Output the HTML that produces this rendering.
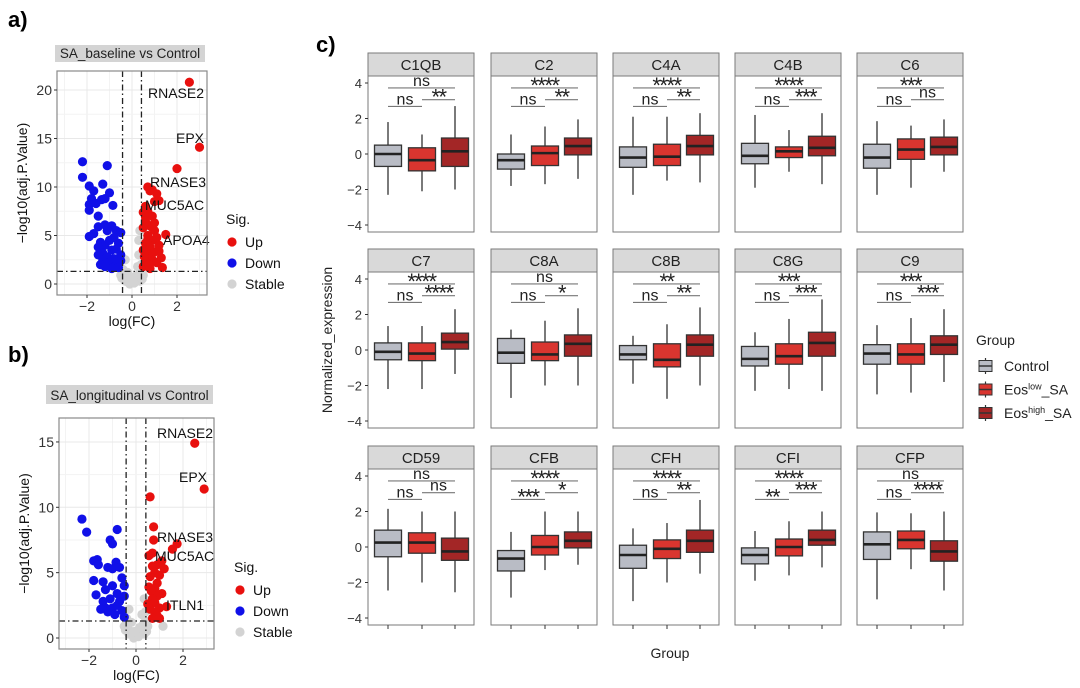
<!DOCTYPE html>
<html><head><meta charset="utf-8">
<style>
html,body{margin:0;padding:0;background:#fff;}
svg{display:block;font-family:"Liberation Sans",Arial,sans-serif;}
</style></head>
<body>
<svg id="fig" width="1080" height="688" viewBox="0 0 1080 688" xmlns="http://www.w3.org/2000/svg"></svg>
<script>
// ---------- Volcano data ----------
const volcA_up = [[2.55,20.8],[3.0,14.1],[2.0,11.9],[0.8,9.6],[0.7,10.0],[0.9,9.7],[1.1,9.3],[1.0,8.5],[1.2,8.6],[0.6,8.0],[0.5,7.4],[0.7,7.5],[0.9,7.0],[1.5,5.1],[0.6,6.5],[0.8,6.0],[1.0,5.5],[0.5,5.8],[0.7,5.0],[1.1,4.8],[0.9,4.5],[0.6,4.2],[1.2,4.0],[0.8,3.8],[0.5,3.5],[1.0,3.3],[1.3,2.7],[0.7,3.0],[0.9,2.5],[0.6,2.2],[1.1,2.2],[1.35,1.7],[0.5,1.8],[0.8,1.6],[0.7,4.6],[1.0,6.3],[0.9,5.8],[0.6,6.9],[1.2,3.4],[0.55,2.8],[0.75,2.0]];
const volcA_down = [[-2.2,12.6],[-1.1,12.2],[-2.2,11.0],[-1.3,10.3],[-1.9,10.1],[-1.7,9.6],[-1.0,9.4],[-1.2,8.8],[-1.8,8.8],[-1.9,8.2],[-1.6,8.3],[-1.35,8.7],[-0.85,8.1],[-1.9,7.6],[-1.5,7.0],[-1.2,6.1],[-1.5,5.9],[-0.9,6.0],[-1.7,5.2],[-1.9,4.9],[-1.1,5.5],[-0.7,5.5],[-0.5,5.3],[-1.4,4.3],[-1.0,4.5],[-0.8,4.8],[-1.2,4.0],[-0.6,4.2],[-1.5,3.8],[-0.9,3.5],[-1.3,3.2],[-0.7,3.6],[-1.5,3.0],[-1.1,2.8],[-0.8,2.6],[-0.5,3.0],[-1.3,2.4],[-1.0,2.2],[-0.7,2.0],[-1.2,1.8],[-0.6,1.7],[-0.9,1.6],[-0.5,2.4],[-1.4,2.0]];
const volcA_stable = [[0,0.2],[-0.2,0.5],[0.2,0.5],[-0.35,1.0],[0.3,1.0],[-0.1,0],[0.1,0.1],[-0.3,0.3],[0.35,0.3],[0.4,1.3],[-0.4,1.5],[0.25,1.8],[-0.2,1.2],[0.15,0.8],[0.3,3.0],[0.35,5.5],[0.3,4.5],[-0.3,2.5],[0.4,2.0],[-0.05,0.5],[0.05,0.4],[-0.15,0.15],[0.45,0.5],[-0.45,0.6],[0.5,0.9],[-0.5,0.9]];
const volcB_up = [[2.5,14.9],[2.9,11.4],[0.6,10.8],[0.75,8.5],[0.75,7.5],[1.75,7.2],[1.55,6.8],[0.7,6.5],[0.55,6.3],[1.1,5.9],[0.9,5.6],[0.7,5.5],[1.2,5.3],[0.8,5.0],[1.0,4.8],[0.6,4.7],[0.9,4.2],[0.55,3.9],[0.8,3.8],[0.65,3.6],[1.1,3.4],[0.9,3.2],[0.7,3.0],[0.8,2.7],[1.3,2.4],[1.0,2.3],[0.6,2.2],[0.8,2.0],[0.9,1.7],[0.7,1.5],[1.0,1.5],[0.5,2.6]];
const volcB_down = [[-2.3,9.1],[-2.1,8.1],[-0.8,8.3],[-1.1,7.5],[-1.0,7.2],[-1.8,5.9],[-1.65,6.0],[-1.6,5.6],[-0.85,5.8],[-1.2,5.4],[-1.0,5.3],[-0.7,5.4],[-0.6,4.6],[-1.8,4.4],[-1.4,4.3],[-1.0,4.0],[-0.5,4.0],[-1.3,3.7],[-1.7,3.3],[-0.8,3.4],[-0.5,3.2],[-1.1,3.0],[-1.4,2.8],[-0.7,2.8],[-1.3,2.3],[-1.0,2.3],[-0.6,2.1],[-1.2,2.0],[-0.9,1.8],[-0.5,1.6],[-1.5,2.2],[-0.8,2.5]];
const volcB_stable = [[0,0.2],[-0.2,0.5],[0.2,0.5],[-0.35,1.0],[0.3,1.0],[-0.1,0],[0.1,0.1],[-0.3,0.3],[0.35,0.3],[0.4,1.3],[-0.4,1.5],[0.25,1.8],[-0.2,1.2],[0.15,0.8],[0.35,3.0],[-0.3,2.2],[0.4,2.0],[-0.05,0.5],[0.45,0.5],[-0.45,0.6],[0.5,0.9],[-0.5,0.9],[1.15,0.9]];
const volcA_ticksY = [0,5,10,15,20];
const volcB_ticksY = [0,5,10,15];
const volcTicksX = [-2,0,2];

// ---------- Boxplot data ----------
const genes = ["C1QB","C2","C4A","C4B","C6","C7","C8A","C8B","C8G","C9","CD59","CFB","CFH","CFI","CFP"];
// [whiskerLow, q1, median, q3, whiskerHigh]
const ctrlStats = [[-2.3,-0.7,0,0.5,1.8],[-1.8,-0.85,-0.35,0,1.1],[-2.3,-0.75,-0.2,0.4,2.1],[-1.9,-0.55,-0.1,0.6,2.2],[-2.3,-0.8,-0.2,0.55,1.85],[-2.2,-0.55,-0.1,0.4,1.35],[-2.7,-0.75,-0.15,0.65,1.15],[-1.9,-0.55,-0.25,0.25,0.8],[-2.3,-0.9,-0.5,0.2,1.0],[-2.5,-0.8,-0.2,0.3,1.4],[-2.45,-0.55,0.25,0.95,2.15],[-2.85,-1.35,-0.65,-0.2,0.85],[-3.05,-1.2,-0.45,0.1,1.05],[-1.9,-0.95,-0.45,-0.05,0.9],[-2.95,-0.7,0.15,0.85,1.95]];
const lowStats = [[-2.1,-0.95,-0.35,0.35,1.1],[-1.7,-0.65,0.05,0.45,1.55],[-1.5,-0.65,-0.15,0.55,2.1],[-1,-0.2,0.15,0.4,1.35],[-1.9,-0.3,0.25,0.85,1.6],[-2.2,-0.6,-0.2,0.4,1.35],[-2,-0.6,-0.25,0.45,1.65],[-2.75,-0.95,-0.55,0.35,1.45],[-2.2,-0.8,-0.35,0.35,1.75],[-2.4,-0.8,-0.25,0.35,1.8],[-2,-0.35,0.25,0.8,2.0],[-1.3,-0.45,0.0,0.65,2.0],[-2,-0.65,-0.1,0.4,1.35],[-1.6,-0.5,0.0,0.45,1.45],[-1.25,-0.1,0.4,0.9,1.9]];
const highStats = [[-2,-0.7,0.15,0.9,2.7],[-1.4,-0.05,0.45,0.9,1.95],[-1.6,-0.05,0.45,1.05,2.3],[-1.7,-0.1,0.35,1.0,2.3],[-1.0,-0.05,0.4,0.95,1.95],[-1.35,0.05,0.45,0.95,2.3],[-2,-0.35,0.35,0.85,2.35],[-2,-0.35,0.3,0.85,2.4],[-2.3,-0.35,0.4,1.0,2.85],[-1.8,-0.25,0.3,0.8,2.3],[-2.55,-0.75,-0.25,0.5,2.0],[-1.0,-0.05,0.35,0.85,2.0],[-1.5,-0.3,0.35,0.95,2.65],[-1.15,0.1,0.4,0.95,2.0],[-2.45,-0.8,-0.25,0.35,2.0]];
const sigTop = ["ns","****","****","****","***","****","ns","**","***","***","ns","****","****","****","ns"];
const sigLeft = ["ns","ns","ns","ns","ns","ns","ns","ns","ns","ns","ns","***","ns","**","ns"];
const sigRight = ["**","**","**","***","ns","****","*","**","***","***","ns","*","**","***","****"];
const boxTicks = [4,2,0,-2,-4];

const NS="http://www.w3.org/2000/svg";
const svg=document.getElementById('fig');
function mk(tag,attrs,parent){const e=document.createElementNS(NS,tag);for(const k in attrs)e.setAttribute(k,attrs[k]);(parent||svg).appendChild(e);return e;}
function txt(s,attrs,parent){const e=mk('text',attrs,parent);e.textContent=s;return e;}

let t;
t=txt("a)",{x:8,y:27,"font-size":22,"font-weight":"bold"});
t=txt("b)",{x:8,y:362,"font-size":22,"font-weight":"bold"});
t=txt("c)",{x:316,y:52,"font-size":22,"font-weight":"bold"});

// ---------- Volcano ----------
function volcano(cfg){
  const g=mk('g',{});
  
  
  const X=v=>cfg.x0+v*cfg.sx, Y=v=>cfg.y0-v*cfg.sy;
  const tb=mk('rect',{x:cfg.title[0],y:cfg.title[1],width:cfg.title[2],height:cfg.title[3],fill:"#d4d4d4"},g);
  
  t=txt(cfg.titleText,{x:cfg.title[0]+cfg.title[2]/2,y:cfg.title[1]+cfg.title[3]-4,"text-anchor":"middle","font-size":13.5,fill:"#222"},g);
  
  for(let v=-3;v<=3;v+=1){mk('line',{x1:X(v),x2:X(v),y1:cfg.top,y2:cfg.bot,stroke:(v%2===0)?"#e8e8e8":"#f3f3f3","stroke-width":1},g);}
  for(let v=0;v<=cfg.ymax;v+=2.5){mk('line',{x1:cfg.left,x2:cfg.right,y1:Y(v),y2:Y(v),stroke:(v%5===0)?"#e8e8e8":"#f3f3f3","stroke-width":1},g);}
  const pts=[[cfg.stable,"#d3d3d3","stable-point"],[cfg.down,"#1010e8","down-point"],[cfg.up,"#e8100e","up-point"]];
  pts.forEach(([arr,col,nm])=>arr.forEach(p=>{
    const c=mk('circle',{cx:X(p[0]),cy:Y(p[1]),r:4.6,fill:col},g);
    
    
  }));
  [-0.42,0.42].forEach(v=>mk('line',{x1:X(v),x2:X(v),y1:cfg.top,y2:cfg.bot,stroke:"#222","stroke-width":1.3,"stroke-dasharray":"6,3,1.5,3"},g));
  mk('line',{x1:cfg.left,x2:cfg.right,y1:Y(1.3),y2:Y(1.3),stroke:"#222","stroke-width":1.3,"stroke-dasharray":"6,3,1.5,3"},g);
  cfg.labels.forEach(l=>{t=txt(l[0],{x:l[1],y:l[2],"font-size":14,fill:"#111"},g);});
  mk('rect',{x:cfg.left,y:cfg.top,width:cfg.right-cfg.left,height:cfg.bot-cfg.top,fill:"none",stroke:"#8a8a8a","stroke-width":1.2},g);
  cfg.ticksY.forEach(v=>{mk('line',{x1:cfg.left-3,x2:cfg.left,y1:Y(v),y2:Y(v),stroke:"#333"},g);
    t=txt(String(v),{x:cfg.left-5,y:Y(v)+5,"text-anchor":"end","font-size":14,fill:"#333"},g);});
  volcTicksX.forEach(v=>{mk('line',{x1:X(v),x2:X(v),y1:cfg.bot,y2:cfg.bot+3,stroke:"#333"},g);
    t=txt(v<0?"\u2212"+Math.abs(v):String(v),{x:X(v),y:cfg.bot+16,"text-anchor":"middle","font-size":14,fill:"#333"},g);});
  t=txt("log(FC)",{x:(cfg.left+cfg.right)/2,y:cfg.bot+31,"text-anchor":"middle","font-size":14,fill:"#111"},g);
  const cy=(cfg.top+cfg.bot)/2;
  t=txt("\u2212log10(adj.P.Value)",{x:0,y:0,"text-anchor":"middle","font-size":14,fill:"#111",transform:`translate(${cfg.left-30},${cy}) rotate(-90)`},g);
  const L=cfg.legend;
  t=txt("Sig.",{x:L[0]-6,y:L[1],"font-size":14,fill:"#111"},g);
  [["Up","#e8100e"],["Down","#1010e8"],["Stable","#d3d3d3"]].forEach((e,i)=>{
    const yy=L[1]+18+i*21;
    const c=mk('circle',{cx:L[0],cy:yy,r:4.6,fill:e[1]},g);
    
    t=txt(e[0],{x:L[0]+13,y:yy+5,"font-size":14,fill:"#111"},g);
  });
}
volcano({name:"volcano-a",x0:132,sx:22.5,y0:284,sy:9.7,left:57,right:207,top:71,bot:295,ymax:22,
  up:volcA_up,down:volcA_down,stable:volcA_stable,ticksY:volcA_ticksY,
  title:[55,45,150,17],titleText:"SA_baseline vs Control",
  labels:[["RNASE2",148,98],["EPX",176,143],["RNASE3",150,187],["MUC5AC",145,210],["APOA4",163,245]],
  legend:[232,224]});
volcano({name:"volcano-b",x0:136,sx:23.5,y0:638,sy:13.07,left:59,right:214,top:418,bot:649,ymax:16.5,
  up:volcB_up,down:volcB_down,stable:volcB_stable,ticksY:volcB_ticksY,
  title:[46,385,167,19],titleText:"SA_longitudinal vs Control",
  labels:[["RNASE2",157,438],["EPX",179,482],["RNASE3",157,542],["MUC5AC",155,561],["ITLN1",166,610]],
  legend:[240,572]});

// ---------- Boxplots ----------
const colLeft=[368,491,613,735,857], pw=106;
const rowStrip=[53,249,446], stripH=23, plotH=156, zeroOff=78, su=17.75;
const fills=["#b9bcc5","#d9352f","#a32626"];
const offs=[20,54,87], bw=27;
genes.forEach((gname,i)=>{
  const r=Math.floor(i/5), c=i%5;
  const L=colLeft[c], st=rowStrip[r], top=st+stripH, z=top+zeroOff;
  const Y=v=>z-v*su;
  const g=mk('g',{});
  
  
  const s=mk('rect',{x:L,y:st,width:pw,height:stripH,fill:"#d9d9d9",stroke:"#7a7a7a","stroke-width":1},g);
  
  t=txt(gname,{x:L+pw/2,y:st+17,"text-anchor":"middle","font-size":15,fill:"#222"},g);
  mk('rect',{x:L,y:top,width:pw,height:plotH,fill:"#fff",stroke:"#7a7a7a","stroke-width":1},g);
  [ctrlStats[i],lowStats[i],highStats[i]].forEach((d,k)=>{
    const cx=L+offs[k];
    const w=mk('line',{x1:cx,x2:cx,y1:Y(d[0]),y2:Y(d[4]),stroke:"#333","stroke-width":1.3},g);
    
    const b=mk('rect',{x:cx-bw/2,y:Y(d[3]),width:bw,height:Y(d[1])-Y(d[3]),fill:fills[k],stroke:"#333","stroke-width":1.3},g);
    
    const m=mk('line',{x1:cx-bw/2,x2:cx+bw/2,y1:Y(d[2]),y2:Y(d[2]),stroke:"#222","stroke-width":2.6},g);
    
  });
  const sigs=[[sigTop[i],0,2,3.72],[sigLeft[i],0,1,2.68],[sigRight[i],1,2,3.06]];
  sigs.forEach(sg=>{
    const x1=L+offs[sg[1]], x2=L+offs[sg[2]], yy=Y(sg[3]);
    mk('line',{x1:x1,x2:x2,y1:yy,y2:yy,stroke:"#777","stroke-width":1.1},g);
    const star=sg[0]!=="ns";
    t=txt(sg[0],{x:(x1+x2)/2,y:star?yy+5:yy-2,"text-anchor":"middle","font-size":star?22:16,fill:"#222","letter-spacing":star?"-1.5":"0"},g);
    
  });
  if(c===0){
    boxTicks.forEach(v=>{mk('line',{x1:L-3,x2:L,y1:Y(v),y2:Y(v),stroke:"#333"},g);
      t=txt(v<0?"\u2212"+Math.abs(v):String(v),{x:L-6,y:Y(v)+5,"text-anchor":"end","font-size":13,fill:"#333"},g);});
  }
  if(r===2){offs.forEach(o=>mk('line',{x1:L+o,x2:L+o,y1:top+plotH,y2:top+plotH+4,stroke:"#333"},g));}
});
t=txt("Normalized_expression",{x:0,y:0,"text-anchor":"middle","font-size":14,fill:"#222",transform:"translate(332,340) rotate(-90)"});
t=txt("Group",{x:670,y:658,"text-anchor":"middle","font-size":14,fill:"#222"});

t=txt("Group",{x:976,y:345,"font-size":14,fill:"#222"});
const legLabels=[["Control",null],["Eos","low"],["Eos","high"]];
legLabels.forEach((l,k)=>{
  const yy=366+k*23.5;
  const gk=mk('g',{});
  
  
  mk('line',{x1:985.5,x2:985.5,y1:yy-8,y2:yy+8,stroke:"#333","stroke-width":1.2},gk);
  mk('rect',{x:979,y:yy-5.5,width:13,height:11,fill:fills[k],stroke:"#333","stroke-width":1},gk);
  mk('line',{x1:979,x2:992,y1:yy,y2:yy,stroke:"#333","stroke-width":1.5},gk);
  const tt=txt("",{x:1004,y:yy+5,"font-size":14,fill:"#222"},gk);
  if(l[1]){
    const a=document.createElementNS(NS,'tspan');a.textContent="Eos";tt.appendChild(a);
    const b=document.createElementNS(NS,'tspan');b.setAttribute('font-size','9');b.setAttribute('dy','-5');b.textContent=l[1];tt.appendChild(b);
    const d=document.createElementNS(NS,'tspan');d.setAttribute('dy','5');d.textContent="_SA";tt.appendChild(d);
  } else tt.textContent=l[0];
});
</script>
</body></html>
